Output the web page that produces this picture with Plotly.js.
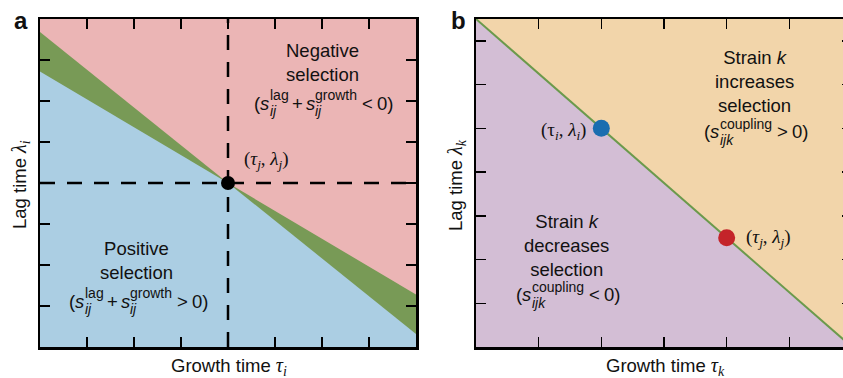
<!DOCTYPE html>
<html><head><meta charset="utf-8">
<script src="https://cdn.plot.ly/plotly-3.0.1.min.js"></script>
<style>html,body{margin:0;padding:0;overflow:hidden;background:#fff;width:843px;height:378px}#plot{width:856px;height:378px}</style>
</head><body><div id="plot"></div>
<script>
// ---------- data ----------
// Panel a: growth time tau_i (x) vs lag time lambda_i (y); two boundary lines through (tau_j, lambda_j)
const aRange = [0, 8];
const aTicks = [1, 2, 3, 4, 5, 6, 7];
const aLineX = [0, 4, 8];
const aSteepY = [7.68, 4, 0.32];
const aShallowY = [6.72, 4, 1.28];
const pivotTau = [4];
const pivotLambda = [4];
// Panel b: growth time tau_k vs lag time lambda_k
const bXRange = [0, 6];
const bYRange = [0, 7.5];
const bXTicks = [1, 2, 3, 4, 5];
const bYTicks = [1, 2, 3, 4, 5, 6, 7];
const bLineX = [0, 6];
const bLineY = [7.5, 0];
const strainTau = [2, 4];
const strainLambda = [5, 2.5];
const strainColors = ['#1a6db0', '#c4242a'];

// ---------- style ----------
const W = 856, H = 378;
const PINK = '#ebb5b5', BLUE = '#abcee3', GREEN = '#789a56', PEACH = '#f2d5aa', LILAC = '#d3bed5', GLINE = '#6b9a4c';
const SANS = 'Liberation Sans, Arial, Helvetica, sans-serif';
const SERIF = 'Liberation Serif, Times New Roman, serif';
const FS = 18.5;

const upperA = aSteepY.map((v, i) => Math.max(v, aShallowY[i]));
const lowerA = aSteepY.map((v, i) => Math.min(v, aShallowY[i]));

const poly = (x, y, color, xa, ya) => ({type: 'scatter', mode: 'lines', x, y, fill: 'toself', fillcolor: color,
  line: {width: 0, color: color}, xaxis: xa, yaxis: ya, hoverinfo: 'skip'});

const traces = [
  poly([aRange[0], aRange[1], aRange[1], aRange[0]], [aRange[0], aRange[0], aRange[1], aRange[1]], GREEN, 'x', 'y'),
  poly([aRange[0], ...aLineX, aRange[1]], [aRange[1], ...upperA, aRange[1]], PINK, 'x', 'y'),
  poly([aRange[0], ...aLineX, aRange[1]], [aRange[0], ...lowerA, aRange[0]], BLUE, 'x', 'y'),
  {type: 'scatter', mode: 'lines', x: [pivotTau[0], pivotTau[0]], y: aRange, line: {color: '#000', width: 2.5, dash: '15px,12px'}, xaxis: 'x', yaxis: 'y'},
  {type: 'scatter', mode: 'lines', x: aRange, y: [pivotLambda[0], pivotLambda[0]], line: {color: '#000', width: 2.5, dash: '15px,12px'}, xaxis: 'x', yaxis: 'y'},
  {type: 'scatter', mode: 'markers', x: pivotTau, y: pivotLambda, marker: {color: '#000', size: 14}, xaxis: 'x', yaxis: 'y'},

  poly([bXRange[0], bXRange[1], bXRange[1], bXRange[0]], [bYRange[0], bYRange[0], bYRange[1], bYRange[1]], PEACH, 'x2', 'y2'),
  poly([...bLineX, bXRange[0]], [...bLineY, bYRange[0]], LILAC, 'x2', 'y2'),
  {type: 'scatter', mode: 'lines', x: bLineX, y: bLineY, line: {color: GLINE, width: 2}, xaxis: 'x2', yaxis: 'y2'},
  {type: 'scatter', mode: 'markers', x: strainTau, y: strainLambda, marker: {color: strainColors, size: 17}, xaxis: 'x2', yaxis: 'y2'}
];

const axBase = {showgrid: false, zeroline: false, showticklabels: false, ticks: 'inside', ticklen: 10, tickwidth: 1.5,
  tickcolor: '#000', showline: true, linecolor: '#000', linewidth: 2.5, mirror: 'ticks', fixedrange: true};

const ydom = [1 - 347 / H, 1 - 19 / H];

// ---------- formula builder (stacked sub/superscripts) ----------
const cv = document.createElement('canvas').getContext('2d');
function measure(t, size, it) {
  cv.font = (it ? 'italic ' : '') + size + 'px "Liberation Sans"';
  return cv.measureText(t).width;
}
function formula(pieces, xref, yref, x, y, size) {
  const ss = Math.round(size * 0.74);
  let items = [], pos = 0;
  pieces.forEach(p => {
    if (p.gap !== undefined) { pos += p.gap; return; }
    if (p.sup !== undefined) {
      const w1 = measure(p.sup, ss, false), w2 = measure(p.sub, ss, true);
      items.push({text: p.sup, size: ss, off: pos, dy: size * 0.42});
      items.push({text: '<i>' + p.sub + '</i>', size: ss, off: pos, dy: -size * 0.42});
      pos += Math.max(w1, w2);
      return;
    }
    const w = measure(p.t, size, p.it);
    items.push({text: p.it ? '<i>' + p.t + '</i>' : p.t, size: size, off: pos, dy: 0});
    pos += w;
  });
  return items.map(it => ({xref, yref, x, y, xanchor: 'left', yanchor: 'middle', showarrow: false,
    xshift: it.off - pos / 2, yshift: it.dy, text: it.text, font: {family: SANS, size: it.size, color: '#111'}}));
}

const fA_neg = [{t: '('}, {t: 's', it: true}, {sup: 'lag', sub: 'ij'}, {gap: 4}, {t: '+'}, {gap: 3}, {t: 's', it: true}, {sup: 'growth', sub: 'ij'}, {gap: 5}, {t: '<'}, {gap: 4}, {t: '0)'}];
const fA_pos = [{t: '('}, {t: 's', it: true}, {sup: 'lag', sub: 'ij'}, {gap: 4}, {t: '+'}, {gap: 3}, {t: 's', it: true}, {sup: 'growth', sub: 'ij'}, {gap: 5}, {t: '>'}, {gap: 4}, {t: '0)'}];
const fB_inc = [{t: '('}, {t: 's', it: true}, {sup: 'coupling', sub: 'ijk'}, {gap: 5}, {t: '>'}, {gap: 4}, {t: '0)'}];
const fB_dec = [{t: '('}, {t: 's', it: true}, {sup: 'coupling', sub: 'ijk'}, {gap: 5}, {t: '<'}, {gap: 4}, {t: '0)'}];

const txt = (xref, yref, x, y, text, size, extra) => Object.assign({xref, yref, x, y, text, showarrow: false,
  xanchor: 'center', yanchor: 'middle',
  font: {family: SANS, size: size, color: '#111'}, align: 'center'}, extra || {});
const serifFont = {family: SERIF, size: 19, color: '#111'};
const G = s => '<span style="font-family:Liberation Serif;font-size:20px">' + s + '</span>';

const annotations = [
  txt('paper', 'paper', 21 / W, 1 - 20 / H, '<b>a</b>', 24),
  txt('paper', 'paper', 458 / W, 1 - 20 / H, '<b>b</b>', 24),
  txt('x', 'y', 6.0, 6.93, 'Negative<br>selection', FS),
  ...formula(fA_neg, 'x', 'y', 6.0, 5.95, FS),
  txt('x', 'y', 2.06, 2.12, 'Positive<br>selection', FS),
  ...formula(fA_pos, 'x', 'y', 2.06, 1.12, FS),
  txt('x', 'y', 4.3, 4.56, '(<i>τ</i><sub><i>j</i></sub>, <i>λ</i><sub><i>j</i></sub>)', 19, {xanchor: 'left', font: serifFont}),
  txt('x2', 'y2', 4.44, 6.06, 'Strain <i>k</i><br>increases<br>selection', FS),
  ...formula(fB_inc, 'x2', 'y2', 4.44, 4.92, FS),
  txt('x2', 'y2', 1.44, 2.31, 'Strain <i>k</i><br>decreases<br>selection', FS),
  ...formula(fB_dec, 'x2', 'y2', 1.44, 1.19, FS),
  txt('x2', 'y2', 1.79, 4.94, '(τ<sub><i>i</i></sub>, <i>λ</i><sub><i>i</i></sub>)', 19, {xanchor: 'right', font: serifFont}),
  txt('x2', 'y2', 4.28, 2.49, '(<i>τ</i><sub><i>j</i></sub>, <i>λ</i><sub><i>j</i></sub>)', 19, {xanchor: 'left', font: serifFont}),
  // axis titles
  txt('paper', 'paper', 229 / W, 1 - 366 / H, 'Growth time ' + G('<i>τ</i><sub><i>i</i></sub>'), 18.5),
  txt('paper', 'paper', 665 / W, 1 - 366 / H, 'Growth time ' + G('<i>τ</i><sub><i>k</i></sub>'), 18.5),
  txt('paper', 'paper', 20 / W, 1 - 185 / H, 'Lag time ' + G('<i>λ</i><sub><i>i</i></sub>'), 18.5, {textangle: -90}),
  txt('paper', 'paper', 456 / W, 1 - 185 / H, 'Lag time ' + G('<i>λ</i><sub><i>k</i></sub>'), 18.5, {textangle: -90})
];

const layout = {
  width: W, height: H, margin: {l: 0, r: 0, t: 0, b: 0}, showlegend: false, hovermode: false,
  paper_bgcolor: '#fff', plot_bgcolor: 'rgba(0,0,0,0)',
  xaxis: Object.assign({}, axBase, {domain: [40 / W, 416 / W], range: aRange, tickvals: aTicks}),
  yaxis: Object.assign({}, axBase, {domain: ydom, range: aRange, tickvals: aTicks}),
  xaxis2: Object.assign({}, axBase, {domain: [476 / W, 852 / W], range: bXRange, tickvals: bXTicks, anchor: 'y2'}),
  yaxis2: Object.assign({}, axBase, {domain: ydom, range: bYRange, tickvals: bYTicks, anchor: 'x2'}),
  annotations
};
Plotly.newPlot('plot', traces, layout, {staticPlot: true, displayModeBar: false});
</script></body></html>
